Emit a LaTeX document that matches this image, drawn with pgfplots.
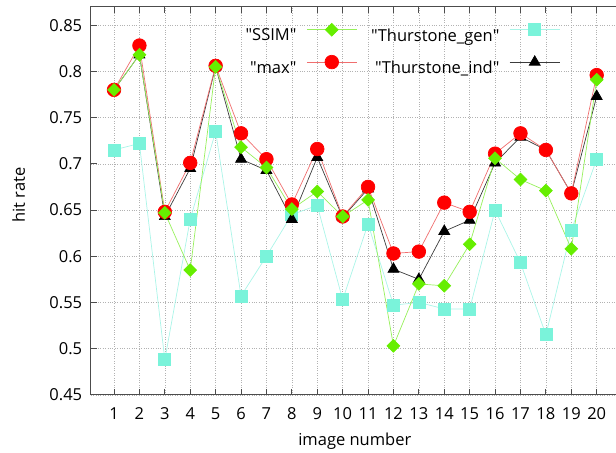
\documentclass[border=0pt]{standalone}
\usepackage{fontspec}
\setmainfont{Open Sans}
\newfontfamily\qf{Open Sans}
\usepackage{pgfplots}
\usepackage{pgfplotstable}
\pgfplotsset{compat=1.18}
\definecolor{cgreen}{RGB}{102,238,0}
\definecolor{cgreenl}{RGB}{150,240,90}
\definecolor{cred}{RGB}{255,0,0}
\definecolor{credl}{RGB}{240,110,110}
\definecolor{ccyan}{RGB}{122,243,218}
\definecolor{ccyanl}{RGB}{170,245,232}
\definecolor{cblk}{RGB}{0,0,0}
\definecolor{cblkl}{RGB}{60,60,60}
\newcommand{\q}{{\qf "}}

\pgfplotstableread{
x ssim max gen ind
1  0.780 0.780 0.715 0.780
2  0.818 0.828 0.722 0.818
3  0.647 0.648 0.488 0.643
4  0.585 0.701 0.640 0.695
5  0.805 0.806 0.735 0.805
6  0.718 0.733 0.557 0.705
7  0.696 0.705 0.600 0.693
8  0.651 0.656 0.645 0.640
9  0.670 0.716 0.655 0.707
10 0.643 0.643 0.553 0.642
11 0.661 0.675 0.635 0.673
12 0.503 0.603 0.547 0.586
13 0.570 0.605 0.550 0.575
14 0.568 0.658 0.543 0.627
15 0.613 0.648 0.543 0.639
16 0.706 0.711 0.650 0.701
17 0.683 0.733 0.593 0.729
18 0.671 0.715 0.515 0.715
19 0.608 0.668 0.628 0.668
20 0.791 0.796 0.705 0.773
}\datatable

\begin{document}
\begin{tikzpicture}
\begin{axis}[
  x=25.4pt, y=924pt,
  xmin=0.083, xmax=21, ymin=0.45, ymax=0.87,
  xtick={1,...,20},
  ytick={0.45,0.5,0.55,0.6,0.65,0.7,0.75,0.8,0.85},
  font=\fontsize{16.5}{19}\selectfont,
  /pgf/number format/assume math mode=true,
  tick align=inside, major tick length=6pt,
  grid=major, grid style={dotted, black!30, line width=0.6pt},
  axis line style={black!70, line width=0.9pt},
  tick style={black!70, line width=0.8pt},
  xlabel={image number}, ylabel={hit rate},
  xlabel style={at={(axis description cs:0.497,0)}, anchor=base, yshift=-51pt},
  ylabel style={at={(axis description cs:-0.1237,0.515)}, anchor=base},
  yticklabel style={/pgf/number format/fixed, /pgf/number format/precision=2, xshift=-5pt},
  xticklabel style={yshift=-9pt},
  legend columns=2, legend plot pos=right, legend cell align=right,
  legend image code/.code={\draw[mark repeat=2,mark phase=2,#1] plot coordinates {(0pt,6pt) (25pt,6pt) (50pt,6pt)};},
  legend style={draw=none, fill=none, at={(axis description cs:0.8833,0.957)}, anchor=north east,
    inner sep=0pt, outer sep=0pt, row sep=12.5pt,
    nodes={inner sep=0pt},
    /tikz/every odd column/.style={column sep=10pt},
    /tikz/every even column/.style={column sep=14pt}},
]
\coordinate (bbSW) at (axis cs:0.083,0.45);
\coordinate (bbNE) at (axis cs:20.76,0.87);

\addplot[forget plot, color=ccyanl, line width=0.7pt, mark=square*, mark size=6pt, mark options={fill=ccyan, draw=ccyan}] table[x=x, y=gen] {\datatable};
\addplot[forget plot, color=cblkl, line width=0.7pt, mark=triangle*, mark size=6.3pt, mark options={fill=cblk, draw=cblk}] table[x=x, y=ind] {\datatable};
\addplot[forget plot, color=credl, line width=0.7pt, mark=*, mark size=6.8pt, mark options={fill=cred, draw=cred}] table[x=x, y=max] {\datatable};
\addplot[forget plot, color=cgreenl, line width=0.7pt, mark=square*, mark size=4.5pt, mark options={rotate=45, fill=cgreen, draw=cgreen}] table[x=x, y=ssim] {\datatable};

\addlegendimage{color=cgreenl, line width=0.7pt, mark=square*, mark size=4.5pt, mark options={rotate=45, fill=cgreen, draw=cgreen}}
\addlegendentry{\q SSIM\q}
\addlegendimage{color=ccyanl, line width=0.7pt, mark=square*, mark size=6pt, mark options={fill=ccyan, draw=ccyan}}
\addlegendentry{\q Thurstone\_gen\q}
\addlegendimage{color=credl, line width=0.7pt, mark=*, mark size=6.8pt, mark options={fill=cred, draw=cred}}
\addlegendentry{\q max\q}
\addlegendimage{color=cblkl, line width=0.7pt, mark=triangle*, mark size=6.3pt, mark options={fill=cblk, draw=cblk}}
\addlegendentry{\q Thurstone\_ind\q}
\end{axis}
\pgfresetboundingbox
\path[use as bounding box] ([xshift=-90.7pt,yshift=-58pt]bbSW) rectangle ([yshift=6.7pt]bbNE);
\end{tikzpicture}
\end{document}
